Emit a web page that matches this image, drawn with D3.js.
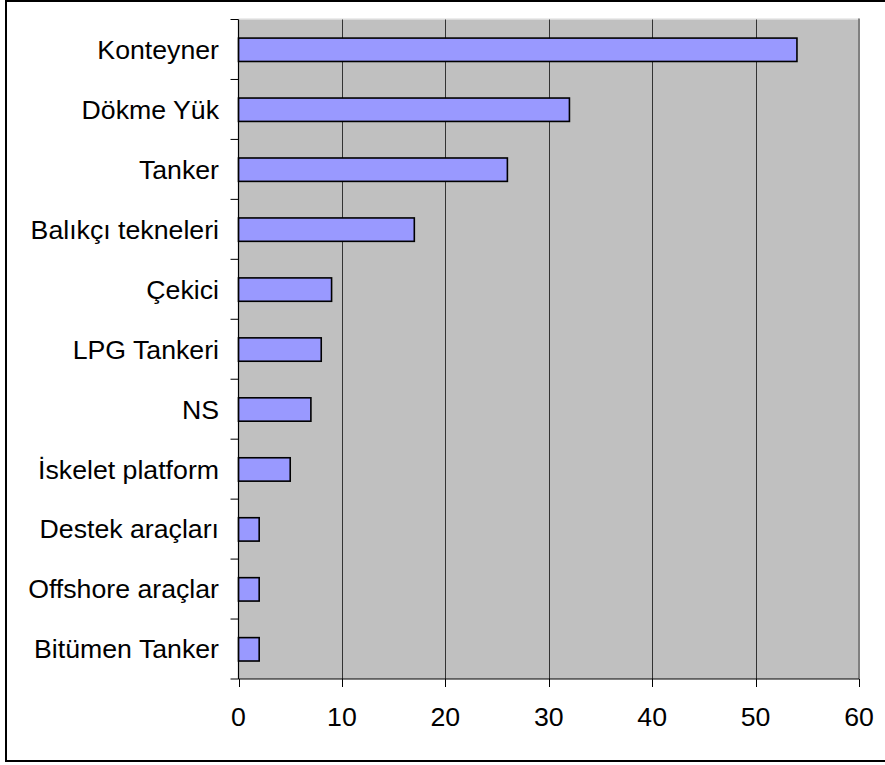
<!DOCTYPE html>
<html>
<head>
<meta charset="utf-8">
<script src="https://cdn.jsdelivr.net/npm/d3@7"></script>
<style>
  html, body { margin: 0; padding: 0; background: #fff; }
  svg { display: block; }
  text { font-family: "Liberation Sans", Arial, sans-serif; fill: #000; }
</style>
</head>
<body>
<svg id="chart" width="885" height="765"></svg>
<script>
// Vessel categories and counts
const categories = [
  "Konteyner", "Dökme Yük", "Tanker", "Balıkçı tekneleri", "Çekici",
  "LPG Tankeri", "NS", "İskelet platform", "Destek araçları",
  "Offshore araçlar", "Bitümen Tanker"
];
const counts = [54, 32, 26, 17, 9, 8, 7, 5, 2, 2, 2];
const xTicks = [0, 10, 20, 30, 40, 50, 60];

const svg = d3.select("#chart");
const fontSize = 26.7;

// Outer frame
svg.append("rect")
  .attr("x", 6).attr("y", 1)
  .attr("width", 900).attr("height", 760)
  .attr("fill", "#fff").attr("stroke", "#000").attr("stroke-width", 2);

const plot = { left: 238.5, right: 859, top: 19.5, bottom: 679 };

const x = d3.scaleLinear().domain([0, 60]).range([plot.left, plot.right]);
const y = d3.scaleBand().domain(categories).range([plot.top, plot.bottom]).padding(0);

// Plot background
svg.append("rect")
  .attr("x", plot.left).attr("y", plot.top)
  .attr("width", plot.right - plot.left).attr("height", plot.bottom - plot.top)
  .attr("fill", "#c0c0c0");

// Plot border: light top edge, darker right edge
svg.append("line")
  .attr("x1", plot.left).attr("x2", plot.right)
  .attr("y1", plot.top - 0.5).attr("y2", plot.top - 0.5)
  .attr("stroke", "#d8d8d8").attr("stroke-width", 1);
svg.append("line")
  .attr("x1", plot.right).attr("x2", plot.right)
  .attr("y1", plot.top - 1).attr("y2", plot.bottom)
  .attr("stroke", "#808080").attr("stroke-width", 2);

// Vertical gridlines
svg.append("g")
  .selectAll("line")
  .data(xTicks.filter(d => d > 0 && d < 60))
  .join("line")
  .attr("x1", d => Math.round(x(d)) + 0.5).attr("x2", d => Math.round(x(d)) + 0.5)
  .attr("y1", plot.top).attr("y2", plot.bottom)
  .attr("stroke", "#333").attr("stroke-width", 1);

// Bars
const bw = y.bandwidth();
svg.append("g")
  .selectAll("rect")
  .data(categories.map((c, i) => ({ c, v: counts[i] })))
  .join("rect")
  .attr("x", x(0))
  .attr("y", d => y(d.c) + bw * 0.31)
  .attr("width", d => x(d.v) - x(0))
  .attr("height", bw * 0.39)
  .attr("fill", "#9999ff")
  .attr("stroke", "#000")
  .attr("stroke-width", 1.6);

// Y axis: line, ticks at category boundaries, labels
const yAxis = svg.append("g");
yAxis.append("line")
  .attr("x1", plot.left).attr("x2", plot.left)
  .attr("y1", plot.top).attr("y2", plot.bottom)
  .attr("stroke", "#000").attr("stroke-width", 1.2);
const bounds = categories.map(c => y(c)).concat([plot.bottom]);
yAxis.selectAll("line.tick")
  .data(bounds)
  .join("line")
  .attr("class", "tick")
  .attr("x1", plot.left - 8).attr("x2", plot.left)
  .attr("y1", d => d).attr("y2", d => d)
  .attr("stroke", "#000").attr("stroke-width", 1);
yAxis.selectAll("text")
  .data(categories)
  .join("text")
  .attr("x", 219)
  .attr("y", d => y(d) + bw / 2)
  .attr("dy", "0.35em")
  .attr("text-anchor", "end")
  .attr("font-size", fontSize)
  .text(d => d);

// X axis
const xAxis = svg.append("g");
xAxis.append("line")
  .attr("x1", plot.left).attr("x2", plot.right)
  .attr("y1", plot.bottom).attr("y2", plot.bottom)
  .attr("stroke", "#000").attr("stroke-width", 1.2);
xAxis.selectAll("line.tick")
  .data(xTicks)
  .join("line")
  .attr("class", "tick")
  .attr("x1", d => Math.round(x(d)) + 0.5).attr("x2", d => Math.round(x(d)) + 0.5)
  .attr("y1", plot.bottom).attr("y2", plot.bottom + 8)
  .attr("stroke", "#000").attr("stroke-width", 1);
xAxis.selectAll("text")
  .data(xTicks)
  .join("text")
  .attr("x", d => x(d))
  .attr("y", 726)
  .attr("text-anchor", "middle")
  .attr("font-size", fontSize)
  .text(d => d);
</script>
</body>
</html>
